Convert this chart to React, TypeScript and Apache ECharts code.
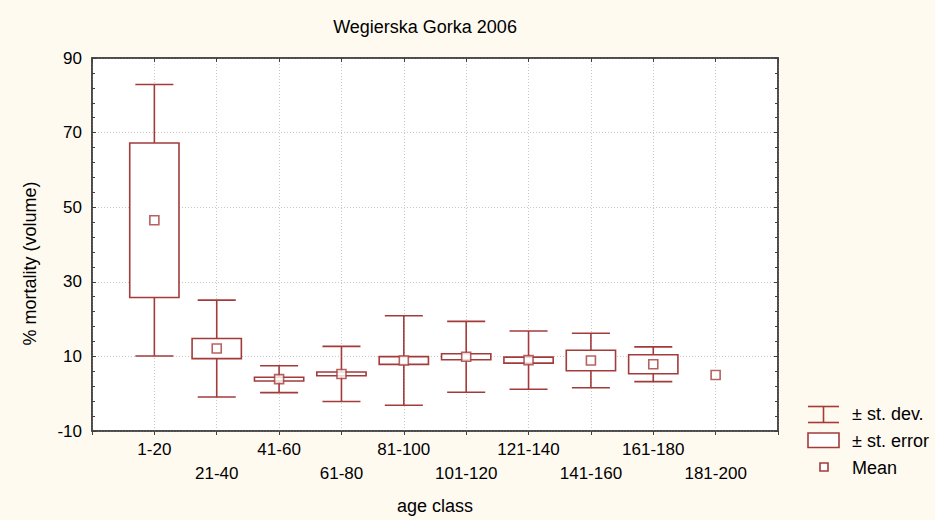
import React, { useEffect, useRef } from "react";
import * as echarts from "echarts";

const categories = ["1-20", "21-40", "41-60", "61-80", "81-100", "101-120", "121-140", "141-160", "161-180", "181-200"];
const means = [46.5, 12.1, 3.9, 5.3, 8.9, 9.9, 9.0, 8.9, 7.9, 5.0];
const stdErrors: (number | null)[] = [20.7, 2.7, 0.5, 0.5, 1.05, 0.8, 0.8, 2.75, 2.55, null];
const stdDevs: (number | null)[] = [36.4, 13.0, 3.6, 7.4, 12.0, 9.5, 7.8, 7.3, 4.65, null];
const yTicks = [-10, 10, 30, 50, 70, 90];

const RED = "#A33B3B";
const FONT = "Liberation Sans, Arial, sans-serif";

export default function App() {
  const ref = useRef<HTMLDivElement>(null);
  useEffect(() => {
    if (!ref.current) return;
    const chart = echarts.init(ref.current, undefined, { renderer: "svg" });

    const boxData = categories.map((_, i) => {
      const m = means[i];
      const se = stdErrors[i];
      const sd = stdDevs[i];
      return [
        i + 1,
        sd == null ? null : m - sd,
        sd == null ? null : m + sd,
        se == null ? null : m - se,
        se == null ? null : m + se,
      ];
    });
    const meanData = means.map((m, i) => [i + 1, m]);

    const tickStyle = { color: "#404040", width: 1 };
    const axisLineStyle = { show: true, onZero: false, lineStyle: { color: "#404040", width: 1.5 } };
    const option: any = {
      animation: false,
      backgroundColor: "#FFFAF0",
      textStyle: { fontFamily: FONT },
      title: {
        text: "Wegierska Gorka 2006",
        left: 420,
        textAlign: "center",
        top: 13,
        textStyle: { fontSize: 18, fontWeight: "normal", color: "#000", fontFamily: FONT },
      },
      grid: {
        left: 92,
        top: 58,
        right: 157,
        bottom: 85,
        show: true,
        backgroundColor: "#fff",
        borderColor: "#404040",
        borderWidth: 1.5,
      },
      xAxis: [
        {
          type: "value",
          min: 0,
          max: 11,
          interval: 1,
          name: "age class",
          nameLocation: "middle",
          nameGap: 66,
          nameTextStyle: { fontSize: 18, color: "#000", fontFamily: FONT },
          axisLine: axisLineStyle,
          axisTick: { show: true, inside: false, length: 4, lineStyle: tickStyle },
          splitLine: { show: true, lineStyle: { color: "#C8C8C8", type: [1, 2], width: 1 } },
          axisLabel: {
            fontSize: 17,
            color: "#000",
            fontFamily: FONT,
            margin: 6,
            lineHeight: 24,
            hideOverlap: false,
            formatter: (v: number) => {
              const idx = Math.round(v) - 1;
              if (idx < 0 || idx >= categories.length) return "";
              return idx % 2 === 1 ? "\n" + categories[idx] : categories[idx];
            },
          },
        },
        {
          type: "value",
          position: "top",
          min: 0,
          max: 11,
          interval: 1,
          axisLine: axisLineStyle,
          axisTick: { show: true, inside: true, length: 4, lineStyle: tickStyle },
          axisLabel: { show: false },
          splitLine: { show: false },
        },
      ],
      yAxis: [
        {
          type: "value",
          min: yTicks[0],
          max: yTicks[yTicks.length - 1],
          interval: 20,
          name: "% mortality (volume)",
          nameLocation: "middle",
          nameGap: 53,
          nameTextStyle: { fontSize: 18, color: "#000", fontFamily: FONT, padding: [0, 38, 0, 0] },
          axisLine: axisLineStyle,
          axisTick: { show: true, inside: true, length: 4, lineStyle: tickStyle },
          minorTick: { show: true, splitNumber: 5, length: 3, lineStyle: tickStyle },
          splitLine: { show: true, lineStyle: { color: "#C8C8C8", type: [1, 2], width: 1 } },
          axisLabel: { fontSize: 17, color: "#000", fontFamily: FONT, margin: 10 },
        },
        {
          type: "value",
          position: "right",
          min: yTicks[0],
          max: yTicks[yTicks.length - 1],
          interval: 20,
          axisLine: axisLineStyle,
          axisTick: { show: true, inside: true, length: 4, lineStyle: tickStyle },
          minorTick: { show: true, splitNumber: 5, length: 3, lineStyle: tickStyle },
          splitLine: { show: false },
          axisLabel: { show: false },
        },
      ],
      series: [
        {
          type: "custom",
          xAxisIndex: 0,
          yAxisIndex: 0,
          data: boxData,
          encode: { x: 0, y: [1, 2, 3, 4] },
          renderItem: (params: any, api: any) => {
            const x = api.value(0);
            const lo = api.value(1);
            const hi = api.value(2);
            const seLo = api.value(3);
            const seHi = api.value(4);
            if (isNaN(lo) || isNaN(hi)) return { type: "group", children: [] };
            const unit = api.size([1, 0])[0];
            const boxW = unit * 0.79;
            const capW = unit * 0.61;
            const pHi = api.coord([x, hi]);
            const pLo = api.coord([x, lo]);
            const pSeHi = api.coord([x, seHi]);
            const pSeLo = api.coord([x, seLo]);
            const cx = pHi[0];
            const style = { stroke: RED, lineWidth: 1.6, fill: null };
            return {
              type: "group",
              children: [
                { type: "line", shape: { x1: cx, y1: pHi[1], x2: cx, y2: pSeHi[1] }, style },
                { type: "line", shape: { x1: cx, y1: pSeLo[1], x2: cx, y2: pLo[1] }, style },
                { type: "line", shape: { x1: cx - capW / 2, y1: pHi[1], x2: cx + capW / 2, y2: pHi[1] }, style },
                { type: "line", shape: { x1: cx - capW / 2, y1: pLo[1], x2: cx + capW / 2, y2: pLo[1] }, style },
                {
                  type: "rect",
                  shape: { x: cx - boxW / 2, y: pSeHi[1], width: boxW, height: pSeLo[1] - pSeHi[1] },
                  style: { stroke: RED, lineWidth: 1.6, fill: "#fff" },
                },
              ],
            };
          },
          z: 2,
        },
        {
          type: "scatter",
          xAxisIndex: 0,
          yAxisIndex: 0,
          data: meanData,
          symbol: "rect",
          symbolSize: 9,
          itemStyle: { color: "#fff", borderColor: RED, borderWidth: 1.6 },
          z: 3,
        },
      ],
      graphic: [
        { type: "line", shape: { x1: 808, y1: 406.5, x2: 839, y2: 406.5 }, style: { stroke: RED, lineWidth: 1.6 } },
        { type: "line", shape: { x1: 808, y1: 422.5, x2: 839, y2: 422.5 }, style: { stroke: RED, lineWidth: 1.6 } },
        { type: "line", shape: { x1: 823.5, y1: 406.5, x2: 823.5, y2: 422.5 }, style: { stroke: RED, lineWidth: 1.6 } },
        { type: "rect", shape: { x: 808, y: 433, width: 31, height: 14.5 }, style: { stroke: RED, lineWidth: 1.6, fill: "#fff" } },
        { type: "rect", shape: { x: 820, y: 463, width: 8, height: 8 }, style: { stroke: RED, lineWidth: 1.6, fill: "#fff" } },
        { type: "text", x: 852, y: 414, style: { text: "± st. dev.", fontSize: 18, fontFamily: FONT, fill: "#000", verticalAlign: "middle" } },
        { type: "text", x: 852, y: 441, style: { text: "± st. error", fontSize: 18, fontFamily: FONT, fill: "#000", verticalAlign: "middle" } },
        { type: "text", x: 852, y: 468, style: { text: "Mean", fontSize: 18, fontFamily: FONT, fill: "#000", verticalAlign: "middle" } },
      ],
    };
    chart.setOption(option);
    return () => chart.dispose();
  }, []);

  return (
    <div
      ref={ref}
      style={{ position: "fixed", left: 0, top: 0, width: 935, height: 520 }}
    />
  );
}
